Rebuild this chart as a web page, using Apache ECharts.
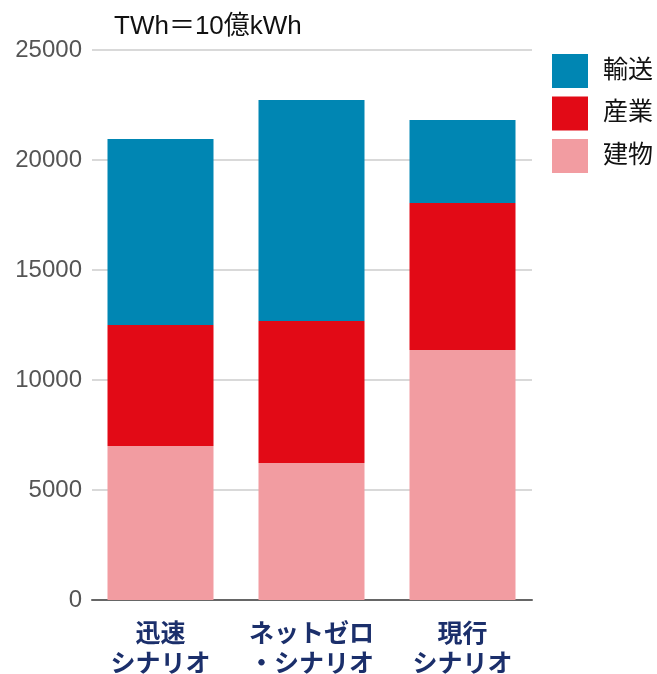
<!DOCTYPE html>
<html>
<head>
<meta charset="utf-8">
<script src="https://cdn.jsdelivr.net/npm/echarts@6/dist/echarts.min.js"></script>
<style>
  html, body { margin: 0; padding: 0; background: #fff; }
  #chart { width: 657px; height: 674px; }
</style>
</head>
<body>
<div id="chart"></div>
<script>
// scenarios and values (TWh)
const categories = ["迅速\nシナリオ", "ネットゼロ\n・シナリオ", "現行\nシナリオ"];
const buildings = [7000, 6230, 11360];
const industry = [5500, 6450, 6690];
const transport = [8450, 10050, 3770];
const yTicks = [0, 5000, 10000, 15000, 20000, 25000];

const chart = echarts.init(document.getElementById("chart"));

const font = "'Liberation Sans', 'Noto Sans CJK JP', sans-serif";
const yMin = yTicks[0];
const yMax = yTicks[yTicks.length - 1];

// grid 0 draws the y axis, gridlines and baseline; grid 1 (a bit wider) holds the bars
const option = {
  animation: false,
  textStyle: { fontFamily: font },
  title: {
    text: "TWh＝10億kWh",
    left: 109,
    top: 9,
    textStyle: { fontSize: 26, fontWeight: "normal", color: "#111", fontFamily: font }
  },
  legend: {
    orient: "vertical",
    left: 547,
    top: 49,
    itemWidth: 36,
    itemHeight: 34,
    itemGap: 8.5,
    icon: "rect",
    data: ["輸送", "産業", "建物"],
    textStyle: { fontSize: 25, color: "#111", fontFamily: font, padding: [0, 0, 0, 10] }
  },
  grid: [
    { left: 92, right: 125, top: 50, bottom: 74, outerBoundsMode: "none" },
    { left: 85, right: 119, top: 50, bottom: 74, outerBoundsMode: "none" }
  ],
  xAxis: [
    {
      gridIndex: 0,
      type: "category",
      data: categories,
      axisLine: { lineStyle: { color: "#666", width: 2 } },
      axisTick: { show: false },
      axisLabel: { show: false }
    },
    {
      gridIndex: 1,
      type: "category",
      data: categories,
      axisLine: { show: false },
      axisTick: { show: false },
      axisLabel: {
        fontSize: 25,
        fontWeight: "bold",
        color: "#1b2f6b",
        lineHeight: 30,
        margin: 20,
        interval: 0
      }
    }
  ],
  yAxis: [
    {
      gridIndex: 0,
      type: "value",
      min: yMin,
      max: yMax,
      interval: 5000,
      axisLine: { show: false },
      axisTick: { show: false },
      splitLine: { lineStyle: { color: "#ccc", width: 1.5 } },
      axisLabel: { fontSize: 24, color: "#555", margin: 10, formatter: v => String(v) }
    },
    {
      gridIndex: 1,
      type: "value",
      min: yMin,
      max: yMax,
      interval: 5000,
      show: false
    }
  ],
  series: [
    {
      name: "建物", type: "bar", stack: "total", barWidth: 106,
      xAxisIndex: 1, yAxisIndex: 1,
      itemStyle: { color: "#f29ca1" }, data: buildings
    },
    {
      name: "産業", type: "bar", stack: "total", barWidth: 106,
      xAxisIndex: 1, yAxisIndex: 1,
      itemStyle: { color: "#e20a16" }, data: industry
    },
    {
      name: "輸送", type: "bar", stack: "total", barWidth: 106,
      xAxisIndex: 1, yAxisIndex: 1,
      itemStyle: { color: "#0086b3" }, data: transport
    }
  ]
};

chart.setOption(option);

window.addEventListener("resize", function () {
  chart.resize();
});
</script>
</body>
</html>
